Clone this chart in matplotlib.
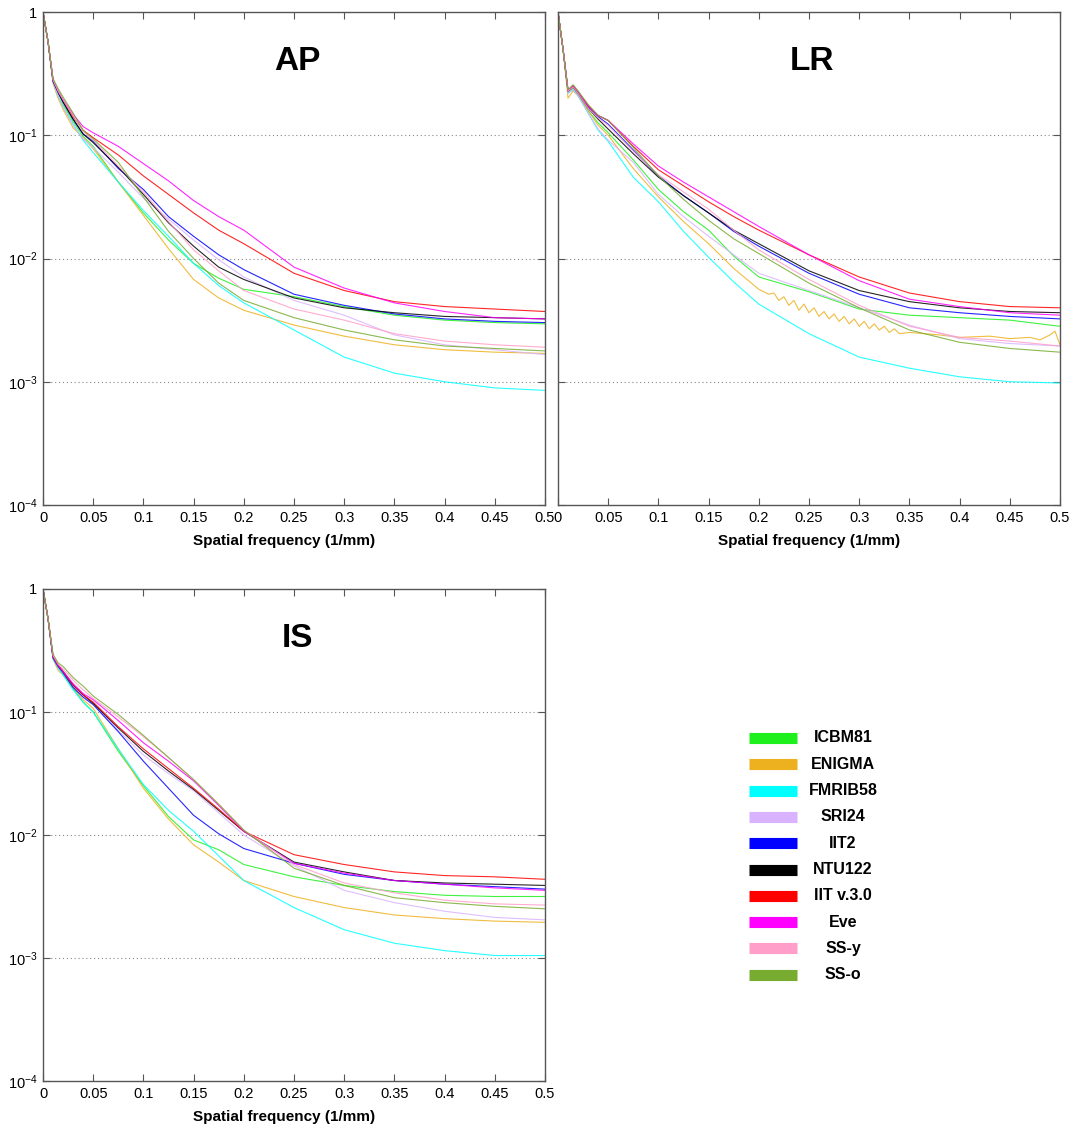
import matplotlib
matplotlib.use("Agg")
import matplotlib.pyplot as plt
import numpy as np

plt.rcParams['font.family'] = ['Liberation Sans', 'DejaVu Sans']
plt.rcParams['mathtext.fontset'] = 'custom'
plt.rcParams['mathtext.rm'] = 'Liberation Sans'
plt.rcParams['mathtext.it'] = 'Liberation Sans:italic'
plt.rcParams['mathtext.bf'] = 'Liberation Sans:bold'

# spatial frequency samples (1/mm)
freq = [0, 0.005, 0.01, 0.015, 0.02, 0.03, 0.04, 0.05, 0.075, 0.1, 0.125,
        0.15, 0.175, 0.2, 0.25, 0.3, 0.35, 0.4, 0.45, 0.5]

atlases = ['ICBM81', 'ENIGMA', 'FMRIB58', 'SRI24', 'IIT2', 'NTU122',
           'IIT v.3.0', 'Eve', 'SS-y', 'SS-o']
cores = ['#1ef01e', '#edb120', '#00ffff', '#d9b3ff', '#0000ff', '#000000',
         '#ff0000', '#ff00ff', '#ff9ec8', '#77ac30']

# valores, em log10 da amplitude normalizada
ap_icbm81 = [0, -0.24, -0.56, -0.66, -0.75, -0.89, -1.01, -1.09, -1.38, -1.63, -1.85, -2.04, -2.16, -2.25, -2.31, -2.39, -2.46, -2.50, -2.52, -2.53]
ap_enigma = [0, -0.24, -0.58, -0.70, -0.79, -0.94, -1.02, -1.11, -1.38, -1.65, -1.92, -2.17, -2.32, -2.42, -2.54, -2.63, -2.70, -2.74, -2.76, -2.77]
ap_fmrib58 = [0, -0.24, -0.57, -0.68, -0.77, -0.91, -1.04, -1.14, -1.38, -1.61, -1.82, -2.04, -2.22, -2.36, -2.58, -2.80, -2.93, -3.00, -3.05, -3.07]
ap_sri24 = [0, -0.24, -0.57, -0.68, -0.77, -0.92, -1.03, -1.10, -1.30, -1.51, -1.68, -1.85, -2.01, -2.15, -2.34, -2.46, -2.62, -2.70, -2.74, -2.78]
ap_iit2 = [0, -0.24, -0.56, -0.65, -0.73, -0.87, -0.99, -1.05, -1.27, -1.44, -1.66, -1.82, -1.97, -2.09, -2.29, -2.38, -2.45, -2.49, -2.51, -2.52]
ap_ntu122 = [0, -0.24, -0.56, -0.65, -0.73, -0.87, -0.99, -1.06, -1.26, -1.48, -1.71, -1.90, -2.07, -2.17, -2.32, -2.40, -2.44, -2.47, -2.48, -2.49]
ap_iit3 = [0, -0.24, -0.55, -0.64, -0.71, -0.85, -0.96, -1.02, -1.16, -1.33, -1.48, -1.63, -1.77, -1.88, -2.12, -2.26, -2.35, -2.39, -2.41, -2.43]
ap_eve = [0, -0.24, -0.55, -0.64, -0.71, -0.83, -0.93, -0.98, -1.09, -1.23, -1.37, -1.53, -1.66, -1.77, -2.07, -2.24, -2.36, -2.43, -2.48, -2.49]
ap_ssy = [0, -0.24, -0.55, -0.64, -0.71, -0.84, -0.97, -1.04, -1.25, -1.46, -1.70, -1.93, -2.10, -2.26, -2.41, -2.50, -2.61, -2.67, -2.70, -2.72]
ap_sso = [0, -0.24, -0.54, -0.62, -0.69, -0.82, -0.96, -1.03, -1.22, -1.50, -1.78, -2.00, -2.20, -2.34, -2.48, -2.58, -2.66, -2.71, -2.73, -2.75]

lr_icbm81 = [0, -0.30, -0.65, -0.62, -0.67, -0.80, -0.90, -0.98, -1.20, -1.44, -1.62, -1.77, -1.98, -2.15, -2.27, -2.41, -2.46, -2.48, -2.50, -2.55]
lr_fmrib58 = [0, -0.30, -0.66, -0.63, -0.68, -0.82, -0.96, -1.05, -1.34, -1.54, -1.78, -1.99, -2.19, -2.37, -2.61, -2.80, -2.89, -2.96, -3.00, -3.01]
lr_sri24 = [0, -0.30, -0.66, -0.63, -0.68, -0.82, -0.95, -1.04, -1.22, -1.48, -1.66, -1.82, -1.97, -2.12, -2.26, -2.40, -2.54, -2.65, -2.69, -2.71]
lr_iit2 = [0, -0.30, -0.64, -0.60, -0.65, -0.77, -0.85, -0.91, -1.12, -1.33, -1.49, -1.63, -1.78, -1.90, -2.12, -2.29, -2.40, -2.44, -2.47, -2.49]
lr_ntu122 = [0, -0.30, -0.64, -0.61, -0.66, -0.78, -0.87, -0.95, -1.15, -1.34, -1.49, -1.63, -1.77, -1.88, -2.10, -2.26, -2.35, -2.40, -2.43, -2.44]
lr_iit3 = [0, -0.30, -0.64, -0.60, -0.65, -0.76, -0.84, -0.88, -1.09, -1.28, -1.41, -1.54, -1.66, -1.77, -1.97, -2.15, -2.28, -2.35, -2.39, -2.40]
lr_eve = [0, -0.30, -0.64, -0.60, -0.65, -0.76, -0.84, -0.88, -1.07, -1.25, -1.38, -1.50, -1.62, -1.74, -1.97, -2.18, -2.33, -2.39, -2.44, -2.46]
lr_ssy = [0, -0.30, -0.64, -0.61, -0.66, -0.78, -0.86, -0.92, -1.13, -1.32, -1.46, -1.60, -1.77, -1.93, -2.17, -2.38, -2.55, -2.64, -2.67, -2.71]
lr_sso = [0, -0.30, -0.63, -0.59, -0.64, -0.75, -0.84, -0.88, -1.10, -1.33, -1.52, -1.69, -1.84, -1.96, -2.20, -2.40, -2.58, -2.68, -2.73, -2.76]

# ENIGMA no painel LR oscila (serrilhado), por isso tem amostragem propria
lr_enigma_freq = [0, 0.005, 0.01, 0.015, 0.02, 0.03, 0.04, 0.05, 0.075, 0.1, 0.125, 0.15, 0.175, 0.2,
                  0.21, 0.215, 0.22, 0.225, 0.23, 0.235, 0.24, 0.245, 0.25, 0.255, 0.26, 0.265,
                  0.27, 0.275, 0.28, 0.285, 0.29, 0.295, 0.30, 0.305, 0.31, 0.315, 0.32, 0.325,
                  0.33, 0.335, 0.34, 0.35, 0.38, 0.4, 0.43, 0.45, 0.47, 0.48, 0.49, 0.495, 0.5]
lr_enigma = [0, -0.30, -0.70, -0.64, -0.68, -0.80, -0.92, -1.00, -1.27, -1.50, -1.70, -1.88, -2.08, -2.25,
             -2.29, -2.28, -2.34, -2.31, -2.38, -2.34, -2.42, -2.37, -2.44, -2.40, -2.47, -2.43,
             -2.49, -2.45, -2.51, -2.47, -2.53, -2.49, -2.55, -2.51, -2.57, -2.53, -2.58, -2.55,
             -2.60, -2.57, -2.61, -2.60, -2.62, -2.64, -2.63, -2.65, -2.64, -2.66, -2.62, -2.59, -2.70]

is_icbm81 = [0, -0.24, -0.56, -0.63, -0.69, -0.81, -0.92, -1.00, -1.32, -1.60, -1.85, -2.04, -2.12, -2.24, -2.34, -2.41, -2.46, -2.49, -2.50, -2.50]
is_enigma = [0, -0.24, -0.57, -0.66, -0.70, -0.80, -0.90, -0.97, -1.30, -1.62, -1.87, -2.08, -2.22, -2.37, -2.50, -2.59, -2.65, -2.68, -2.70, -2.71]
is_fmrib58 = [0, -0.24, -0.57, -0.64, -0.70, -0.82, -0.92, -1.00, -1.30, -1.59, -1.80, -1.97, -2.17, -2.37, -2.59, -2.77, -2.88, -2.94, -2.98, -2.98]
is_sri24 = [0, -0.24, -0.56, -0.63, -0.68, -0.79, -0.87, -0.93, -1.15, -1.35, -1.50, -1.64, -1.82, -2.00, -2.25, -2.45, -2.55, -2.62, -2.67, -2.69]
is_iit2 = [0, -0.24, -0.56, -0.63, -0.68, -0.80, -0.88, -0.94, -1.16, -1.40, -1.62, -1.84, -1.99, -2.11, -2.23, -2.32, -2.37, -2.40, -2.42, -2.44]
is_ntu122 = [0, -0.24, -0.55, -0.62, -0.67, -0.78, -0.86, -0.93, -1.13, -1.32, -1.48, -1.63, -1.80, -1.97, -2.22, -2.30, -2.37, -2.39, -2.40, -2.41]
is_iit3 = [0, -0.24, -0.55, -0.62, -0.67, -0.78, -0.86, -0.92, -1.12, -1.30, -1.46, -1.62, -1.79, -1.97, -2.16, -2.24, -2.30, -2.33, -2.34, -2.36]
is_eve = [0, -0.24, -0.55, -0.62, -0.67, -0.77, -0.85, -0.90, -1.07, -1.25, -1.40, -1.56, -1.76, -1.97, -2.23, -2.31, -2.37, -2.40, -2.43, -2.45]
is_ssy = [0, -0.24, -0.54, -0.61, -0.65, -0.74, -0.82, -0.89, -1.04, -1.20, -1.37, -1.55, -1.75, -1.96, -2.24, -2.39, -2.47, -2.53, -2.56, -2.57]
is_sso = [0, -0.24, -0.53, -0.60, -0.63, -0.72, -0.79, -0.87, -1.02, -1.19, -1.37, -1.55, -1.75, -1.96, -2.27, -2.41, -2.51, -2.55, -2.58, -2.60]

paineis = [
    ('AP', [(freq, ap_icbm81), (freq, ap_enigma), (freq, ap_fmrib58), (freq, ap_sri24), (freq, ap_iit2),
            (freq, ap_ntu122), (freq, ap_iit3), (freq, ap_eve), (freq, ap_ssy), (freq, ap_sso)]),
    ('LR', [(freq, lr_icbm81), (lr_enigma_freq, lr_enigma), (freq, lr_fmrib58), (freq, lr_sri24), (freq, lr_iit2),
            (freq, lr_ntu122), (freq, lr_iit3), (freq, lr_eve), (freq, lr_ssy), (freq, lr_sso)]),
    ('IS', [(freq, is_icbm81), (freq, is_enigma), (freq, is_fmrib58), (freq, is_sri24), (freq, is_iit2),
            (freq, is_ntu122), (freq, is_iit3), (freq, is_eve), (freq, is_ssy), (freq, is_sso)]),
]

W, H = 1075, 1129
fig = plt.figure(figsize=(W / 100, H / 100), dpi=100)

# posicoes dos eixos em pixels: (esquerda, topo, direita, base), rotulos de y, centro do xlabel
caixas = [((43, 12, 545, 505), True, 0.48),
          ((558, 12, 1060, 505), False, 0.5),
          ((43, 589, 545, 1081), True, 0.48)]

cinza = '#555555'
yticks = [1e-4, 1e-3, 1e-2, 1e-1, 1]
ylabels = ['$10^{-4}$', '$10^{-3}$', '$10^{-2}$', '$10^{-1}$', '1']
xticks = [0, 0.05, 0.1, 0.15, 0.2, 0.25, 0.3, 0.35, 0.4, 0.45, 0.5]
xlabels = ['0', '0.05', '0.1', '0.15', '0.2', '0.25', '0.3', '0.35', '0.4', '0.45', '0.5']

for (titulo, curvas), ((l, t, r, b), com_y, xc) in zip(paineis, caixas):
    ax = fig.add_axes([l / W, 1 - b / H, (r - l) / W, (b - t) / H])
    for (fx, fy), cor in zip(curvas, cores):
        ax.semilogy(fx, 10 ** np.array(fy), color=cor, lw=0.8, alpha=0.85)
    ax.set_xlim(0, 0.5)
    ax.set_ylim(1e-4, 1)
    ax.set_yticks(yticks)
    ax.set_yticklabels(ylabels if com_y else [])
    ax.set_xticks(xticks)
    ax.set_xticklabels(xlabels)
    ax.minorticks_off()
    ax.tick_params(direction='in', top=True, right=True, length=5, color=cinza,
                   labelsize=10.5, pad=4)
    for lado in ax.spines.values():
        lado.set_color(cinza)
        lado.set_linewidth(1.0)
    for y in [1e-3, 1e-2, 1e-1]:
        ax.axhline(y, color='#888888', ls=(0, (1, 2.5)), lw=0.8, zorder=0)
    ax.set_xlabel('Spatial frequency (1/mm)', fontsize=11, fontweight='bold')
    ax.xaxis.set_label_coords(xc, -0.058)
    ax.text(0.506, 0.9, titulo, transform=ax.transAxes, ha='center', va='center',
            fontsize=24, fontweight='bold')

# legenda desenhada a mao para centralizar os nomes
leg = fig.add_axes([0, 0, 1, 1], facecolor='none')
leg.set_xlim(0, W)
leg.set_ylim(H, 0)
leg.axis('off')
y0, dy = 738, 26.3
for i, (nome, cor) in enumerate(zip(atlases, cores)):
    yy = y0 + i * dy
    leg.plot([749, 797], [yy, yy], color=cor, lw=8, solid_capstyle='butt')
    leg.text(843, yy, nome, ha='center', va='center', fontsize=11.5, fontweight='bold')

fig.savefig('out.png', dpi=100)
